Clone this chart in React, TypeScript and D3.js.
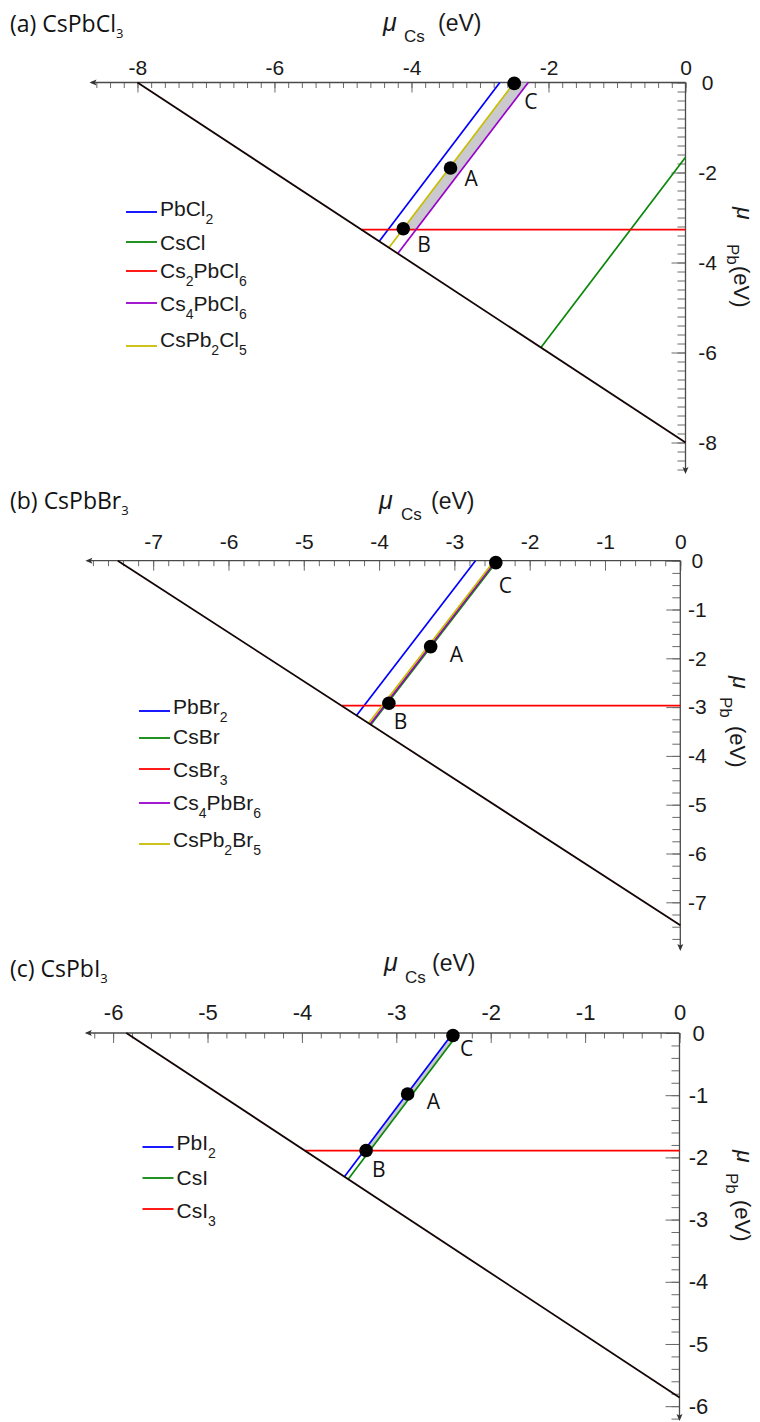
import { useEffect, useRef } from 'react'
import * as d3 from 'd3'

type Pt = [number, number] // [mu_Cs, mu_Pb] in eV

// (a) CsPbCl3
const clPhases = ['PbCl2', 'CsCl', 'Cs2PbCl6', 'Cs4PbCl6', 'CsPb2Cl5']
const clFrom: Pt[] = [[-2.71, 0], [0, -1.66], [-4.73, -3.27], [-2.295, 0], [-2.5, 0]]
const clTo: Pt[] = [[-4.47, -3.53], [-2.11, -5.89], [0, -3.27], [-4.2, -3.8], [-4.33, -3.67]]
const clLimit: Pt[] = [[-8.0, 0], [0, -8.0]]
const clStable: Pt[] = [[-2.5, 0], [-2.295, 0], [-3.93, -3.27], [-4.135, -3.27]]
const clPoints: Pt[] = [[-3.43, -1.9], [-4.12, -3.25], [-2.5, -0.02]]
const clTicks = [-8, -6, -4, -2, 0]

// (b) CsPbBr3
const brPhases = ['PbBr2', 'CsBr', 'CsBr3', 'Cs4PbBr6', 'CsPb2Br5']
const brFrom: Pt[] = [[-2.72, 0], [-2.43, 0], [-4.5, -2.97], [-2.45, 0], [-2.47, 0]]
const brTo: Pt[] = [[-4.3, -3.17], [-4.11, -3.36], [0, -2.97], [-4.12, -3.35], [-4.14, -3.33]]
const brLimit: Pt[] = [[-7.47, 0], [0, -7.47]]
const brStable: Pt[] = [[-2.47, 0], [-2.43, 0], [-3.915, -2.97], [-3.955, -2.97]]
const brPoints: Pt[] = [[-3.315, -1.76], [-3.87, -2.92], [-2.45, -0.04]]
const brTicks = [-7, -6, -5, -4, -3, -2, -1, 0]

// (c) CsPbI3
const iPhases = ['PbI2', 'CsI', 'CsI3']
const iFrom: Pt[] = [[-2.4, 0], [-2.34, 0], [-3.97, -1.89]]
const iTo: Pt[] = [[-3.55, -2.31], [-3.51, -2.35], [0, -1.89]]
const iLimit: Pt[] = [[-5.86, 0], [0, -5.86]]
const iStable: Pt[] = [[-2.4, 0], [-2.34, 0], [-3.285, -1.89], [-3.345, -1.89]]
const iPoints: Pt[] = [[-2.88, -0.98], [-3.32, -1.89], [-2.4, -0.04]]
const iTicks = [-6, -5, -4, -3, -2, -1, 0]

const pointNames = ['A', 'B', 'C']
const phaseColors = ['#0000ff', '#0a870a', '#ff0000', '#9900cc', '#c8bd00']

const SANS = '"Liberation Sans", Arial, sans-serif'
const MYRIAD = '"Open Sans", "Noto Sans", sans-serif'

// layout of each panel (pixels)
const panels = [
  {
    tag: '(a) ', host: 'CsPbCl3', phases: clPhases, from: clFrom, to: clTo, limit: clLimit,
    stable: clStable, points: clPoints, ticks: clTicks,
    xDom: [-8.7, 0], xPx: [89.5, 685.5], yDom: [0, -8.7], yPx: [82.5, 474],
    minorX: 0.2, minorY: 0.2, tickFont: 21, xPad: 8, yTickDx: 22,
    titleY: 32, xLab: { x: [383, 404, 438], y: 31, sub: 42 },
    yLab: { y: [207, 244, 266], x: 737, sub: 727, eV: 734 },
    legendX: 126, legendLineY: [212, 242, 271, 303, 346], legendTextY: [216, 250, 278, 311, 347],
    labelOff: [[14, 18], [14, 23], [10, 26]],
  },
  {
    tag: '(b) ', host: 'CsPbBr3', phases: brPhases, from: brFrom, to: brTo, limit: brLimit,
    stable: brStable, points: brPoints, ticks: brTicks,
    xDom: [-7.9, 0], xPx: [85.4, 680.3], yDom: [0, -8.0], yPx: [560.7, 951.1],
    minorX: 0.2, minorY: 0.25, tickFont: 21, xPad: 12, yTickDx: 17,
    titleY: 509, xLab: { x: [379, 401, 431], y: 509, sub: 520 },
    yLab: { y: [676, 697, 726], x: 733, sub: 720, eV: 730 },
    legendX: 139, legendLineY: [711, 738, 769, 803, 844], legendTextY: [714, 744, 777, 810, 847],
    labelOff: [[19, 15], [5, 26], [3, 30]],
  },
  {
    tag: '(c) ', host: 'CsPbI3', phases: iPhases, from: iFrom, to: iTo, limit: iLimit,
    stable: iStable, points: iPoints, ticks: iTicks,
    xDom: [-6.3, 0], xPx: [84.8, 679.5], yDom: [0, -6.24], yPx: [1033, 1421.1],
    minorX: 0.2, minorY: 0.2, tickFont: 22, xPad: 13, yTickDx: 19,
    titleY: 977, xLab: { x: [384, 405, 432], y: 971, sub: 983 },
    yLab: { y: [1150, 1173, 1200], x: 737, sub: 726, eV: 735 },
    legendX: 142.5, legendLineY: [1147, 1178, 1209], legendTextY: [1150, 1185, 1218],
    labelOff: [[19, 15], [6, 26], [7, 21]],
  },
]

type Panel = (typeof panels)[number]

// split a formula into runs; digit runs become subscripts
function addFormula(text: any, str: string, size: number, subSize: number, subDy: number) {
  let down = false
  ;(str.match(/[A-Za-z]+|\d+/g) || []).forEach((part) => {
    const isSub = /\d/.test(part)
    const t = text.append('tspan').attr('font-size', isSub ? subSize : size).text(part)
    if (isSub && !down) {
      t.attr('dy', subDy)
      down = true
    } else if (!isSub && down) {
      t.attr('dy', -subDy)
      down = false
    }
  })
}

function drawPanel(svg: any, p: Panel) {
  const x = d3.scaleLinear().domain(p.xDom).range(p.xPx)
  const y = d3.scaleLinear().domain(p.yDom).range(p.yPx)
  const line = d3
    .line<Pt>()
    .x((d) => x(d[0]))
    .y((d) => y(d[1]))
  const g = svg.append('g')
  const fmt = (d: any) => String(d)

  // x axis (top, ticks pointing down)
  const minorX = d3.range(0, p.xDom[0], -p.minorX)
  const xa = g.append('g').attr('transform', `translate(0,${y(0)})`)
  xa.append('g').call(d3.axisTop(x).tickValues(minorX).tickSizeInner(-5.5).tickSizeOuter(0).tickFormat(() => ''))
  xa.append('g').call(d3.axisTop(x).tickValues(p.ticks).tickSizeInner(-10).tickSizeOuter(0).tickPadding(p.xPad).tickFormat(fmt))

  // y axis (right, ticks pointing left)
  const minorY = d3.range(0, p.yDom[1], -p.minorY)
  const ya = g.append('g').attr('transform', `translate(${x(0)},0)`)
  ya.append('g').call(d3.axisRight(y).tickValues(minorY).tickSizeInner(-8).tickSizeOuter(0).tickFormat(() => ''))
  ya.append('g').call(d3.axisRight(y).tickValues(p.ticks).tickSizeInner(-14).tickSizeOuter(0).tickPadding(p.yTickDx).tickFormat(fmt))
  ya.selectAll('text').attr('text-anchor', 'middle')

  for (const a of [xa, ya]) {
    a.selectAll('.domain').remove()
    a.selectAll('g').attr('font-family', SANS).attr('font-size', p.tickFont)
    a.selectAll('line').attr('stroke', '#6a6a6a').attr('stroke-width', 1)
    a.selectAll('text').attr('fill', '#1a1a1a')
  }

  // axis lines with arrow heads
  const x0 = x(0)
  const y0 = y(0)
  const xe = x(p.xDom[0])
  const ye = y(p.yDom[1])
  g.append('line').attr('x1', xe + 2).attr('x2', x0).attr('y1', y0).attr('y2', y0).attr('stroke', '#4a4a4a').attr('stroke-width', 1.3)
  g.append('line').attr('x1', x0).attr('x2', x0).attr('y1', y0).attr('y2', ye - 2).attr('stroke', '#4a4a4a').attr('stroke-width', 1.3)
  g.append('path').attr('d', `M${xe},${y0}l7,-3l-1.5,3l1.5,3Z`).attr('fill', '#333')
  g.append('path').attr('d', `M${x0},${ye}l-3,-7l3,1.5l3,-1.5Z`).attr('fill', '#333')

  // stability region
  g.append('path').attr('d', line(p.stable) + 'Z').attr('fill', '#c9c9ce')

  // competing phase boundaries
  p.phases.forEach((_, i) => {
    g.append('path')
      .attr('d', line([p.from[i], p.to[i]]))
      .attr('fill', 'none')
      .attr('stroke', phaseColors[i])
      .attr('stroke-width', 1.7)
  })
  g.append('path').attr('d', line(p.limit)).attr('fill', 'none').attr('stroke', '#140404').attr('stroke-width', 1.8)

  // points A, B, C
  p.points.forEach((pt, i) => {
    g.append('circle').attr('cx', x(pt[0])).attr('cy', y(pt[1])).attr('r', 6.8).attr('fill', '#000')
    g.append('text')
      .attr('x', x(pt[0]) + p.labelOff[i][0])
      .attr('y', y(pt[1]) + p.labelOff[i][1])
      .attr('font-family', MYRIAD)
      .attr('font-size', 21)
      .attr('fill', '#111')
      .text(pointNames[i])
  })

  // legend
  p.phases.forEach((name, i) => {
    const ly = p.legendLineY[i]
    g.append('line')
      .attr('x1', p.legendX)
      .attr('x2', p.legendX + 31)
      .attr('y1', ly)
      .attr('y2', ly)
      .attr('stroke', phaseColors[i])
      .attr('stroke-width', 1.8)
    const t = g
      .append('text')
      .attr('x', p.legendX + 34)
      .attr('y', p.legendTextY[i])
      .attr('font-family', SANS)
      .attr('fill', '#1a1a1a')
    addFormula(t, name, 21, 14, 8)
  })

  // panel title
  const tt = g.append('text').attr('x', 10).attr('y', p.titleY).attr('font-family', MYRIAD).attr('font-size', 23).attr('fill', '#111')
  tt.append('tspan').text(p.tag)
  addFormula(tt, p.host, 23, 13, 6)

  // x label: mu_Cs (eV)
  const xl = g.append('g').attr('font-family', SANS).attr('fill', '#1a1a1a')
  xl.append('text').attr('x', p.xLab.x[0]).attr('y', p.xLab.y).attr('font-size', 25).attr('font-style', 'italic').text('μ')
  xl.append('text').attr('x', p.xLab.x[1]).attr('y', p.xLab.sub).attr('font-size', 17).text('Cs')
  xl.append('text').attr('x', p.xLab.x[2]).attr('y', p.xLab.y).attr('font-size', 23).text('(eV)')

  // y label: mu_Pb (eV), rotated
  const yl = g.append('g').attr('font-family', SANS).attr('fill', '#1a1a1a')
  yl.append('text').attr('transform', `translate(${p.yLab.x},${p.yLab.y[0]}) rotate(90)`).attr('font-size', 23).attr('font-style', 'italic').text('μ')
  yl.append('text').attr('transform', `translate(${p.yLab.sub},${p.yLab.y[1]}) rotate(90)`).attr('font-size', 17).text('Pb')
  yl.append('text').attr('transform', `translate(${p.yLab.eV},${p.yLab.y[2]}) rotate(90)`).attr('font-size', 22).text('(eV)')
}

export default function App() {
  const svgRef = useRef<SVGSVGElement>(null)

  useEffect(() => {
    if (!svgRef.current) return
    const svg = d3.select(svgRef.current)
    svg.selectAll('*').remove()
    svg.append('rect').attr('width', 760).attr('height', 1422).attr('fill', '#fff')
    panels.forEach((p) => drawPanel(svg, p))
  }, [])

  return (
    <svg
      ref={svgRef}
      width={760}
      height={1422}
      style={{ position: 'absolute', left: 0, top: 0, display: 'block' }}
    />
  )
}
